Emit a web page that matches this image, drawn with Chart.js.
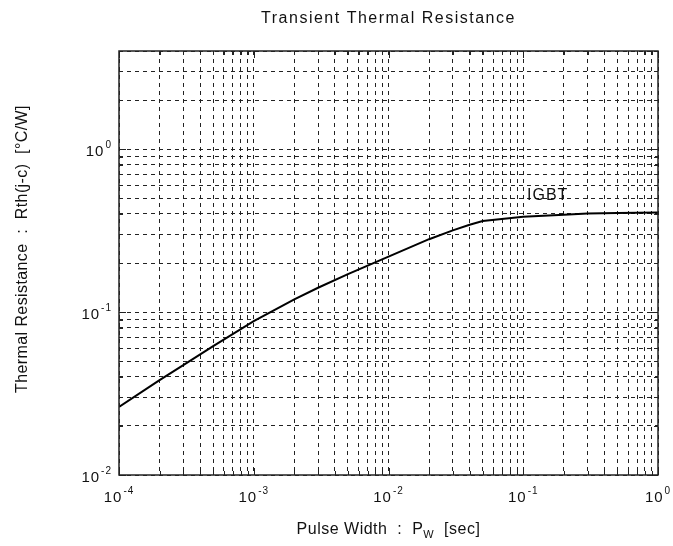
<!DOCTYPE html>
<html>
<head>
<meta charset="utf-8">
<script src="https://cdn.jsdelivr.net/npm/chart.js@4.4.0/dist/chart.umd.min.js"></script>
<style>
  html, body { margin: 0; padding: 0; background: #fff; }
  #wrap { width: 673px; height: 546px; }
</style>
</head>
<body>
<div id="wrap"><canvas id="chart" width="673" height="546"></canvas></div>
<script>
// Curve (pulse width in sec, Rth in degC/W)
const pulseWidth = [1e-4, 2e-4, 3e-4, 5e-4, 1e-3, 2e-3, 3e-3, 5e-3, 1e-2, 2e-2, 3e-2, 4e-2, 5e-2, 1e-1, 2e-1, 3e-1, 5e-1, 1];
const rthIGBT = [0.0262, 0.0382, 0.0472, 0.0618, 0.0880, 0.1195, 0.1410, 0.1710, 0.219, 0.280, 0.317, 0.343, 0.362, 0.385, 0.396, 0.402, 0.406, 0.408];

// Grid positions and decade labels
const xGrid = [1e-4, 2e-4, 3e-4, 4e-4, 5e-4, 6e-4, 7e-4, 8e-4, 9e-4,
               1e-3, 2e-3, 3e-3, 4e-3, 5e-3, 6e-3, 7e-3, 8e-3, 9e-3,
               1e-2, 2e-2, 3e-2, 4e-2, 5e-2, 6e-2, 7e-2, 8e-2, 9e-2,
               0.1, 0.2, 0.3, 0.4, 0.5, 0.6, 0.7, 0.8, 0.9, 1];
const yGrid = [0.01, 0.02, 0.03, 0.04, 0.05, 0.06, 0.07, 0.08, 0.09,
               0.1, 0.2, 0.3, 0.4, 0.5, 0.6, 0.7, 0.8, 0.9,
               1, 2, 3, 4];
const xDecades = [1e-4, 1e-3, 1e-2, 1e-1, 1];
const xDecadeExp = ['-4', '-3', '-2', '-1', '0'];
const yDecades = [0.01, 0.1, 1];
const yDecadeExp = ['-2', '-1', '0'];

const titleText = 'Transient Thermal Resistance';
const yTitleText = 'Thermal Resistance  :  Rth(j-c)  [°C/W]';
const seriesLabel = 'IGBT';

const FONT = '"Liberation Sans", Arial, sans-serif';

function drawPow(ctx, exp, x, baseline, align) {
  ctx.font = '15px ' + FONT;
  const w10 = ctx.measureText('10').width;
  ctx.font = '10px ' + FONT;
  const wExp = ctx.measureText(exp).width;
  const total = w10 + 1 + wExp;
  let start = align === 'right' ? x - total : x - total / 2;
  ctx.textAlign = 'left';
  ctx.font = '15px ' + FONT;
  ctx.fillText('10', start, baseline);
  ctx.font = '10px ' + FONT;
  ctx.fillText(exp, start + w10 + 1, baseline - 8);
}

const decorPlugin = {
  id: 'decor',
  afterDraw(chart) {
    const ctx = chart.ctx;
    const a = chart.chartArea;
    const x = chart.scales.x, y = chart.scales.y;
    ctx.save();
    ctx.strokeStyle = '#222';
    ctx.lineWidth = 1;

    // inward tick marks on all four sides
    ctx.beginPath();
    xGrid.forEach(v => {
      const px = Math.round(x.getPixelForValue(v)) + 0.5;
      const len = xDecades.includes(v) ? 7 : 4;
      ctx.moveTo(px, a.bottom); ctx.lineTo(px, a.bottom - len);
      ctx.moveTo(px, a.top); ctx.lineTo(px, a.top + len);
    });
    yGrid.forEach(v => {
      const py = Math.round(y.getPixelForValue(v)) + 0.5;
      const len = yDecades.includes(v) ? 7 : 4;
      ctx.moveTo(a.left, py); ctx.lineTo(a.left + len, py);
      ctx.moveTo(a.right, py); ctx.lineTo(a.right - len, py);
    });
    ctx.stroke();

    // plot frame
    ctx.lineWidth = 1.5;
    ctx.strokeRect(a.left, a.top, a.right - a.left, a.bottom - a.top);

    ctx.fillStyle = '#111';
    ctx.textBaseline = 'alphabetic';
    ctx.letterSpacing = '1px';

    // decade labels
    xDecades.forEach((v, i) => drawPow(ctx, xDecadeExp[i], x.getPixelForValue(v), 502, 'center'));
    yDecades.forEach((v, i) => drawPow(ctx, yDecadeExp[i], a.left - 7, y.getPixelForValue(v) + 7, 'right'));

    // title
    ctx.font = '16px ' + FONT;
    ctx.letterSpacing = '1.5px';
    ctx.textAlign = 'center';
    ctx.fillText(titleText, (a.left + a.right) / 2, 23);

    // curve label
    ctx.letterSpacing = '1px';
    ctx.textAlign = 'left';
    ctx.fillText(seriesLabel, 527, 200);

    // x axis title with subscript
    ctx.letterSpacing = '0.5px';
    const p1 = 'Pulse Width  :  P', sub = 'W', p2 = '  [sec]';
    ctx.font = '16px ' + FONT;
    const w1 = ctx.measureText(p1).width, w3 = ctx.measureText(p2).width;
    ctx.font = '11px ' + FONT;
    const w2 = ctx.measureText(sub).width;
    let sx = (a.left + a.right) / 2 - (w1 + w2 + w3) / 2;
    ctx.font = '16px ' + FONT;
    ctx.fillText(p1, sx, 534);
    ctx.font = '11px ' + FONT;
    ctx.fillText(sub, sx + w1, 538);
    ctx.font = '16px ' + FONT;
    ctx.fillText(p2, sx + w1 + w2, 534);

    // y axis title
    ctx.letterSpacing = '0.4px';
    ctx.translate(27, 249);
    ctx.rotate(-Math.PI / 2);
    ctx.textAlign = 'center';
    ctx.fillText(yTitleText, 0, 0);
    ctx.restore();
  }
};

const gridOpts = { color: '#222', lineWidth: 1, drawTicks: false };

new Chart(document.getElementById('chart'), {
  type: 'scatter',
  data: {
    datasets: [{
      label: seriesLabel,
      data: pulseWidth.map((t, i) => ({ x: t, y: rthIGBT[i] })),
      showLine: true,
      borderColor: '#000',
      borderWidth: 2,
      pointRadius: 0,
      tension: 0
    }]
  },
  options: {
    responsive: false,
    animation: false,
    devicePixelRatio: 1,
    layout: { padding: { left: 119, right: 15, top: 51, bottom: 71 } },
    plugins: { legend: { display: false }, tooltip: { enabled: false } },
    scales: {
      x: {
        type: 'logarithmic', min: 1e-4, max: 1,
        grid: gridOpts,
        border: { display: false, dash: [4, 4] },
        ticks: { display: false },
        afterBuildTicks: s => { s.ticks = xGrid.map(v => ({ value: v })); }
      },
      y: {
        type: 'logarithmic', min: 0.01, max: 4,
        grid: gridOpts,
        border: { display: false, dash: [4, 4] },
        ticks: { display: false },
        afterBuildTicks: s => { s.ticks = yGrid.map(v => ({ value: v })); }
      }
    }
  },
  plugins: [decorPlugin]
});
</script>
</body>
</html>
